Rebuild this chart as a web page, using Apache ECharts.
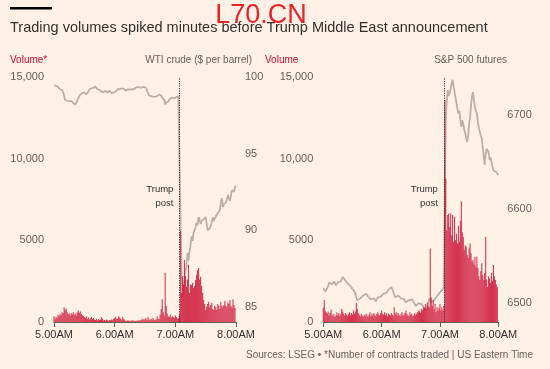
<!DOCTYPE html>
<html><head><meta charset="utf-8">
<script src="https://cdn.jsdelivr.net/npm/echarts@6/dist/echarts.min.js"></script>
<style>html,body{margin:0;padding:0;background:#fff1e5}#c{width:550px;height:369px}</style>
</head><body><div id="c"></div>
<script>
// Minutes after 5.00AM (US Eastern), one value per minute
const xTickLabels = ['5.00AM', '6.00AM', '7.00AM', '8.00AM'];
const volTickLabels = {0: '0', 5000: '5000', 10000: '10,000', 15000: '15,000'};
const postMinute = 124; // 7.04AM Trump post

const wtiVolume = [
 350,200,300,250,450,380,500,420,600,550,
 900,750,820,600,480,520,400,550,480,600,
 450,520,380,600,700,550,650,500,420,380,
 300,250,350,200,280,150,220,300,180,250,
 150,120,200,100,180,120,150,300,200,100,
 120,80,150,100,80,120,90,150,100,200,
 250,300,180,220,350,280,200,150,300,180,
 120,80,60,100,80,60,90,70,100,60,
 80,60,90,70,100,80,120,150,200,100,
 180,250,120,300,150,100,200,150,250,120,
 100,150,350,180,200,450,800,1400,600,400,
 3000,1000,500,350,300,450,280,350,300,250,
 400,300,200,250,450,5550,1780,2800,2300,3800,
 2800,2150,2600,3500,1780,2300,2270,2400,2080,2200,
 2570,2900,3180,3300,2600,2770,2200,1780,1350,1100,
 730,940,1100,1240,900,1040,1160,800,730,1000,
 900,730,1100,1000,800,1240,1000,900,1040,1300,
 1000,940,1200,1100,1350,1000,900,1400,1040,860
];
const wtiPrice = [
 99.45,99.40,99.42,99.30,99.35,99.28,99.20,99.25,99.15,99.00,
 98.80,98.50,98.55,98.45,98.50,98.40,98.38,98.45,98.35,98.30,
 98.25,98.20,98.30,98.45,98.60,98.70,98.85,98.80,98.95,98.90,
 99.00,98.95,98.85,98.90,99.05,99.20,99.30,99.25,99.35,99.30,
 99.38,99.37,99.30,99.20,99.25,99.15,99.10,99.05,99.12,99.00,
 99.05,99.10,99.04,98.98,99.05,99.10,99.00,98.95,99.02,98.98,
 98.95,99.05,99.15,99.20,99.25,99.20,99.30,99.25,99.18,99.22,
 99.15,99.10,99.15,99.20,99.12,99.18,99.25,99.20,99.15,99.20,
 99.25,99.30,99.28,99.35,99.37,99.30,99.25,99.32,99.28,99.35,
 99.30,99.30,99.10,98.95,98.80,98.85,98.75,98.80,98.70,98.75,
 98.72,98.70,98.75,98.80,98.85,98.78,98.80,98.65,98.60,98.50,
 98.20,98.35,98.45,98.40,98.50,98.60,98.55,98.65,98.55,98.60,
 98.65,98.70,98.68,98.72,98.70,91.2,87.8,85.6,86.2,86.9,
 87.3,87.6,88.5,88.0,88.6,89.0,89.6,89.3,89.8,90.0,
 90.2,90.5,90.3,90.85,90.7,90.4,90.6,90.5,90.7,90.6,
 90.85,90.4,90.0,89.9,90.1,90.3,90.5,90.85,90.6,90.7,
 90.9,91.0,91.1,91.0,91.3,91.8,92.1,91.5,91.7,91.6,
 91.8,92.0,92.3,92.2,91.9,92.3,92.6,92.7,92.5,92.8,92.9
];
const spxVolume = [
 880,1350,700,600,500,650,400,550,750,450,
 350,500,300,400,600,450,550,350,500,800,
 650,500,400,550,450,350,500,600,400,550,
 450,700,500,650,1160,800,550,450,350,500,
 400,300,450,350,500,400,300,450,600,350,
 500,400,550,450,350,500,600,450,400,550,
 700,500,450,600,400,550,350,500,450,400,
 550,450,350,900,500,600,400,550,450,350,
 500,600,400,450,550,700,500,400,350,600,
 450,500,350,400,550,450,500,600,700,650,
 550,800,700,900,850,1100,800,1200,1000,900,
 4500,1500,1000,1330,800,1100,600,900,700,850,
 1100,700,900,720,1000,13600,8780,5600,6550,6650,
 5800,6650,5300,6550,4900,6450,5000,5400,4800,5900,
 4900,6200,7370,5500,5200,4400,4700,4600,4100,3900,
 4500,4800,4200,3700,3800,3500,4000,3380,4000,3300,
 2800,2570,3100,3600,2880,2570,3000,5200,2600,2150,
 2800,2660,2400,3000,2500,3490,2800,2570,2300,2150
];
const spxPrice = [
 6516,6514,6512,6510,6514,6518,6522,6524,6522,6520,
 6521,6523,6521,6519,6520,6522,6520,6521,6523,6525,
 6528,6526,6525,6524,6523,6521,6522,6520,6518,6519,
 6516,6514,6512,6510,6506,6503,6501,6503,6505,6507,
 6506,6508,6507,6509,6510,6508,6507,6505,6506,6504,
 6503,6504,6505,6503,6502,6504,6506,6507,6508,6507,
 6508,6509,6510,6512,6510,6511,6513,6514,6515,6516,
 6517,6515,6512,6509,6506,6505,6506,6508,6507,6506,
 6505,6507,6506,6504,6502,6501,6500,6502,6503,6502,
 6503,6504,6503,6501,6499,6497,6496,6498,6500,6501,
 6500,6499,6497,6496,6495,6494,6493,6495,6500,6505,
 6503,6501,6503,6502,6503,6505,6506,6504,6507,6510,
 6512,6513,6511,6514,6516,6620,6698,6715,6726,6720,
 6723,6728,6733,6737,6730,6724,6718,6712,6706,6701,
 6704,6695,6687,6694,6690,6684,6680,6675,6671,6678,
 6690,6698,6710,6720,6724,6715,6708,6704,6701,6692,
 6686,6682,6678,6675,6666,6655,6647,6658,6664,6666,
 6660,6652,6655,6650,6645,6641,6643,6640,6639,6637,6636
];

const FONT = '"Liberation Sans", Arial, sans-serif';
const RED = '#cc0a2f';
const GREY_TXT = '#66605c';
const DARK = '#33302e';
const LINE = '#bab0a8';

const chart = echarts.init(document.getElementById('c'), null, {renderer: 'canvas'});

function xAxisCfg(gi) {
  return {
    type: 'value', gridIndex: gi, min: 0, max: 180, interval: 60,
    axisLine: {show: true, lineStyle: {color: GREY_TXT, width: 1}},
    axisTick: {show: true, length: 5, lineStyle: {color: GREY_TXT}},
    axisLabel: {formatter: v => xTickLabels[Math.round(v / 60)], color: DARK, fontSize: 11, fontFamily: FONT, margin: 7},
    splitLine: {show: false}
  };
}
function volAxisCfg(gi) {
  return {
    type: 'value', gridIndex: gi, position: 'left', min: 0, max: 15000, interval: 5000,
    axisLine: {show: false}, axisTick: {show: false}, splitLine: {show: false},
    axisLabel: {formatter: v => volTickLabels[v], color: GREY_TXT, fontSize: 11, fontFamily: FONT, margin: 10}
  };
}
function priceAxisCfg(gi, min, max, step, labelEvery) {
  return {
    type: 'value', gridIndex: gi, position: 'right', min: min, max: max, interval: step,
    axisLine: {show: false}, axisTick: {show: false}, splitLine: {show: false},
    axisLabel: {formatter: v => (Math.round(v) % labelEvery === 0 ? String(Math.round(v)) : ''), color: GREY_TXT, fontSize: 11, fontFamily: FONT, margin: 9}
  };
}
function barSeries(gi, vol) {
  return {
    type: 'bar', xAxisIndex: gi, yAxisIndex: gi * 2, z: 3,
    data: vol.map((v, i) => [i, v]), barWidth: 1.1,
    itemStyle: {color: 'rgba(204,12,48,0.8)'}, silent: true, animation: false,
    markLine: {
      silent: true, symbol: 'none', animation: false,
      lineStyle: {type: [1.2, 1.2], color: DARK, width: 1},
      label: {show: false},
      data: [{xAxis: postMinute}]
    },
    markPoint: {
      symbol: 'circle', symbolSize: 0, animation: false,
      label: {show: true, formatter: 'Trump\npost', position: 'left', distance: 6, align: 'right',
              color: DARK, fontSize: 9.5, lineHeight: 14, fontFamily: FONT},
      data: [{coord: [postMinute, 7715]}]
    }
  };
}
function lineSeries(gi, price) {
  return {
    type: 'line', xAxisIndex: gi, yAxisIndex: gi * 2 + 1, z: 2,
    data: price.map((v, i) => [i, v]), symbol: 'none', silent: true, animation: false,
    lineStyle: {color: LINE, width: 1.8}
  };
}

chart.setOption({
  backgroundColor: '#fff1e5',
  animation: false,
  textStyle: {fontFamily: FONT},
  grid: [
    {left: 54, top: 77, width: 182, height: 245},
    {left: 323.3, top: 77, width: 175, height: 245}
  ],
  xAxis: [xAxisCfg(0), xAxisCfg(1)],
  yAxis: [
    volAxisCfg(0), priceAxisCfg(0, 84, 100, 1, 5),
    volAxisCfg(1), priceAxisCfg(1, 6480, 6740, 20, 100)
  ],
  series: [
    lineSeries(0, wtiPrice), barSeries(0, wtiVolume),
    lineSeries(1, spxPrice), barSeries(1, spxVolume)
  ],
  graphic: [
    {type: 'rect', shape: {x: 10, y: 7, width: 42, height: 2.5}, style: {fill: '#000'}},
    {type: 'text', x: 10, y: 28, style: {text: 'Trading volumes spiked minutes before Trump Middle East announcement',
      fill: DARK, fontSize: 14.5, fontFamily: FONT, textVerticalAlign: 'middle'}},
    {type: 'text', x: 10, y: 60, style: {text: 'Volume*', fill: RED, fontSize: 10, fontFamily: FONT, textVerticalAlign: 'middle'}},
    {type: 'text', x: 252, y: 60, style: {text: 'WTI crude ($ per barrel)', fill: GREY_TXT, fontSize: 10, fontFamily: FONT, textAlign: 'right', textVerticalAlign: 'middle'}},
    {type: 'text', x: 265, y: 60, style: {text: 'Volume', fill: RED, fontSize: 10, fontFamily: FONT, textVerticalAlign: 'middle'}},
    {type: 'text', x: 507, y: 60, style: {text: 'S&P 500 futures', fill: GREY_TXT, fontSize: 10, fontFamily: FONT, textAlign: 'right', textVerticalAlign: 'middle'}},
    {type: 'text', x: 533, y: 355, style: {text: 'Sources: LSEG \u2022 *Number of contracts traded | US Eastern Time', fill: GREY_TXT, fontSize: 10, fontFamily: FONT, textAlign: 'right', textVerticalAlign: 'middle'}},
    {type: 'text', x: 261, y: 16, z: 100, style: {text: 'L70.CN', fill: '#e4232b', fontSize: 27, fontFamily: FONT, textAlign: 'center', textVerticalAlign: 'middle'}}
  ]
});
</script>
</body></html>
